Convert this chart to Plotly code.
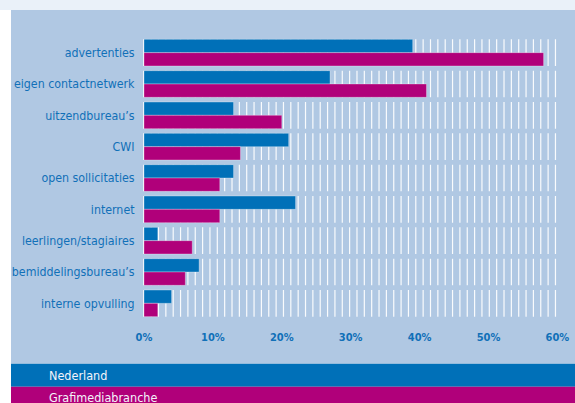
import plotly.graph_objects as go

# Recruitment channels (share of vacancies filled, %)
categories = [
    "advertenties",
    "eigen contactnetwerk",
    "uitzendbureau’s",
    "CWI",
    "open sollicitaties",
    "internet",
    "leerlingen/stagiaires",
    "bemiddelingsbureau’s",
    "interne opvulling",
]
nederland = [39, 27, 13, 21, 13, 22, 2, 8, 4]
grafimedia = [58, 41, 20, 14, 11, 11, 7, 6, 2]

series_names = ["Nederland", "Grafimediabranche"]
tick_values = [0, 10, 20, 30, 40, 50, 60]
tick_labels = ["0%", "10%", "20%", "30%", "40%", "50%", "60%"]

BLUE = "#0070b8"
MAGENTA = "#b0007a"
PANEL = "#b0c8e3"
TOP_STRIP = "#eaf1f9"
LABEL_BLUE = "#1170b8"
FONT = "DejaVu Sans Condensed, sans-serif"

W, H = 575, 403
ML, MR, MT, MB = 142, 15, 37, 84
PW, PH = W - ML - MR, H - MT - MB
BARGAP = 0.15


def px_x(px):
    return (px - ML) / PW


def px_y(py):
    return (H - MB - py) / PH


fig = go.Figure()
fig.add_trace(go.Bar(
    y=categories, x=nederland, orientation="h", name=series_names[0],
    marker=dict(color=BLUE, line=dict(color="rgba(255,255,255,0.3)", width=1)),
))
fig.add_trace(go.Bar(
    y=categories, x=grafimedia, orientation="h", name=series_names[1],
    marker=dict(color=MAGENTA, line=dict(color="rgba(255,255,255,0.3)", width=1)),
))

shapes = []
# light strip along the top edge
shapes.append(dict(type="rect", xref="paper", yref="paper", layer="below",
                   x0=px_x(0), x1=px_x(W), y0=px_y(0), y1=px_y(10),
                   fillcolor=TOP_STRIP, line=dict(width=0)))
# chart panel
shapes.append(dict(type="rect", xref="paper", yref="paper", layer="below",
                   x0=px_x(11), x1=px_x(W), y0=px_y(10), y1=px_y(363.7),
                   fillcolor=PANEL, line=dict(width=0)))

# vertical white hatch behind each row of bars
step = 1.067
n_stripes = 57
start = -0.03
half = (1 - BARGAP) / 2 / len(categories)
parts = []
for i in range(len(categories)):
    yc = 1 - (i + 0.5) / len(categories)
    for k in range(n_stripes):
        xv = start + k * step
        parts.append(f"M{xv:.3f},{yc - half:.4f} L{xv:.3f},{yc + half:.4f}")
shapes.append(dict(type="path", xref="x", yref="paper", layer="below",
                   path=" ".join(parts),
                   line=dict(color="rgba(255,255,255,0.92)", width=1.2)))

# legend bands
shapes.append(dict(type="rect", xref="paper", yref="paper", layer="below",
                   x0=px_x(11), x1=px_x(W), y0=px_y(363.7), y1=px_y(386.7),
                   fillcolor=BLUE, line=dict(width=0)))
shapes.append(dict(type="rect", xref="paper", yref="paper", layer="below",
                   x0=px_x(11), x1=px_x(W), y0=px_y(386.7), y1=px_y(H + 5),
                   fillcolor=MAGENTA, line=dict(width=0)))

annotations = [
    dict(text=series_names[0], xref="paper", yref="paper",
         x=px_x(47), y=px_y(375), xanchor="left", yanchor="middle",
         showarrow=False, font=dict(family=FONT, size=12.5, color="#f4f4fa")),
    dict(text=series_names[1], xref="paper", yref="paper",
         x=px_x(47), y=px_y(397), xanchor="left", yanchor="middle",
         showarrow=False, font=dict(family=FONT, size=12.5, color="#f4f4fa")),
]

fig.update_layout(
    width=W, height=H,
    margin=dict(l=ML, r=MR, t=MT, b=MB, pad=0),
    paper_bgcolor="white",
    plot_bgcolor="rgba(0,0,0,0)",
    barmode="group",
    bargap=BARGAP,
    bargroupgap=0,
    showlegend=False,
    shapes=shapes,
    annotations=annotations,
    xaxis=dict(
        range=[-0.29, 60.38],
        tickvals=tick_values, ticktext=tick_labels,
        showgrid=False, zeroline=False, showline=False,
        ticks="outside", ticklen=8, tickcolor="rgba(0,0,0,0)",
        tickfont=dict(family=FONT, size=11, color=LABEL_BLUE, weight="bold"),
        automargin=False, fixedrange=True,
    ),
    yaxis=dict(
        autorange="reversed",
        showgrid=False, zeroline=False, showline=False,
        ticks="outside", ticklen=4, tickcolor="rgba(0,0,0,0)",
        tickfont=dict(family=FONT, size=12.3, color=LABEL_BLUE),
        automargin=False, fixedrange=True,
    ),
)

fig.write_html("out.html", config={"displayModeBar": False})
